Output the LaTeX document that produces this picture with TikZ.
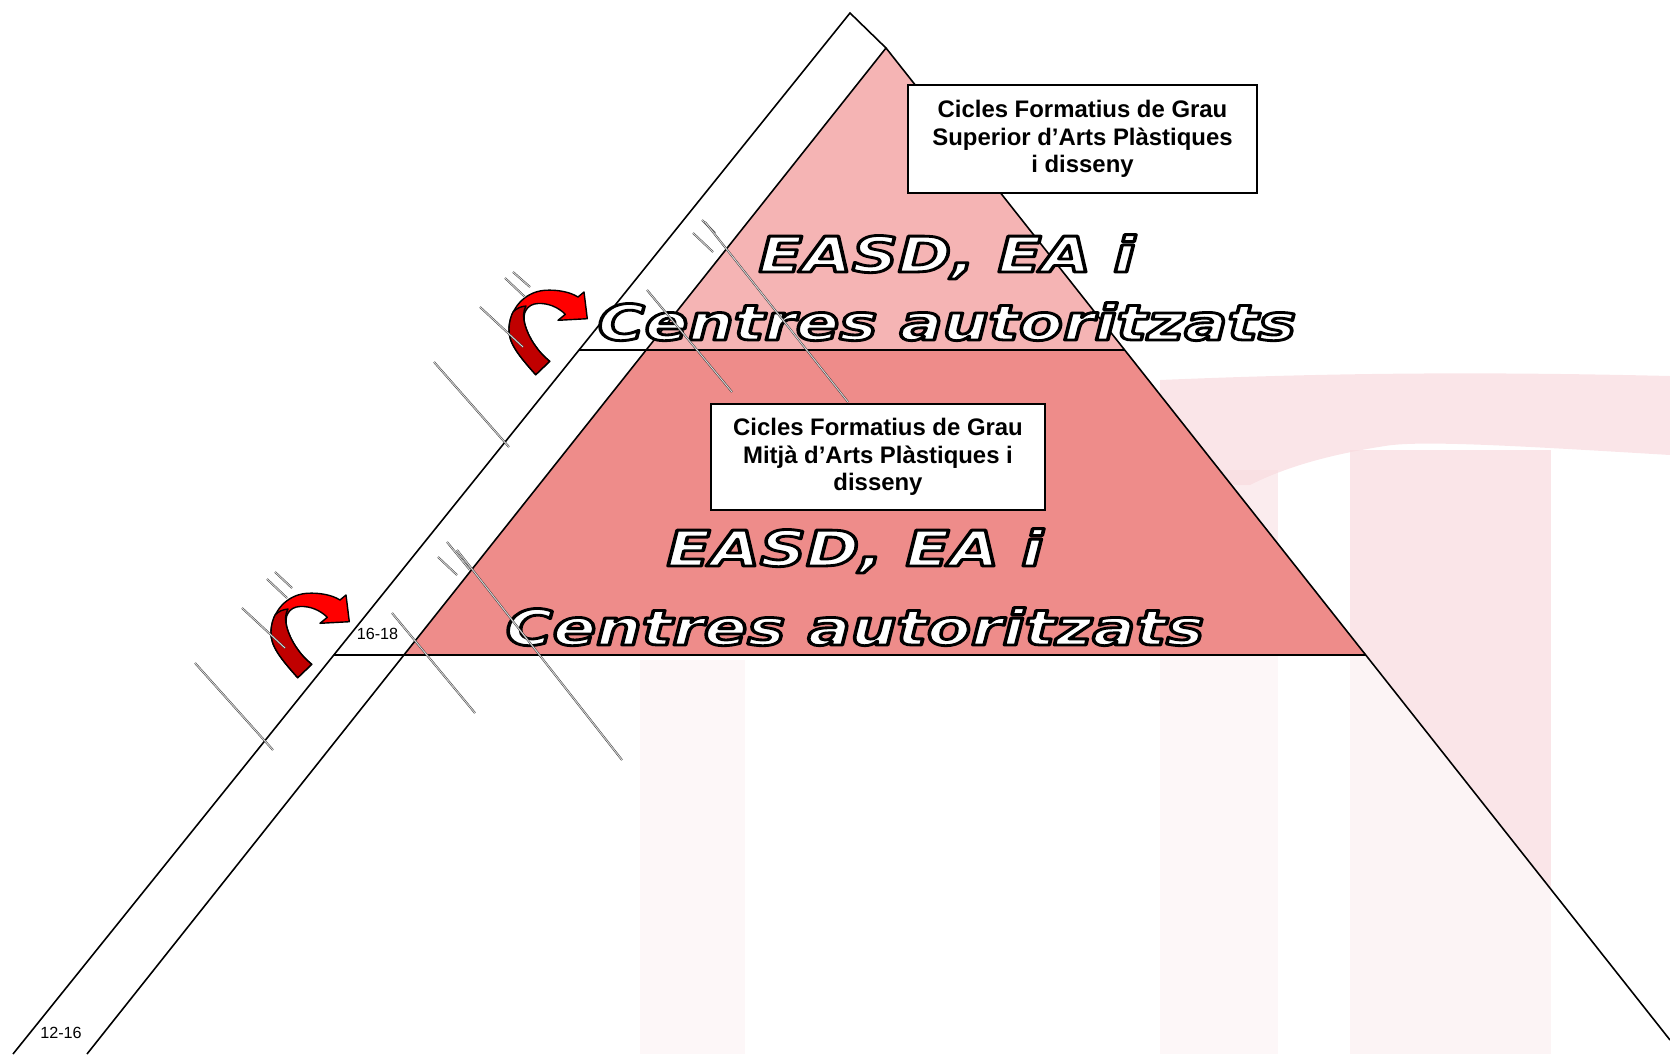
\documentclass[tikz,border=0pt]{standalone}
\usepackage{fontspec}
\setmainfont{Liberation Sans}
\newfontfamily\heavyfont{DejaVu Sans}
\definecolor{pinktop}{RGB}{245,180,180}
\definecolor{pinkmid}{RGB}{238,140,138}
\definecolor{arrowred}{RGB}{255,0,0}
\definecolor{arrowdark}{RGB}{192,0,0}
\definecolor{watermark}{RGB}{248,218,222}

\newcommand{\outlined}[1]{\scalebox{1.3}[1]{\textcolor{white}{\special{pdf:literal direct 0 0 0 RG 0.8 w 1 j 2 Tr}#1\special{pdf:literal direct 0 Tr}}}}

\tikzset{turnarrow/.pic={
  \filldraw[fill=arrowred,line width=0.4pt,line join=round] (57.7,117.7) .. controls (42,100) and (30,86) .. (31,71.7) .. controls (32,52) and (46,35) .. (66.7,33.3) .. controls (80,32.5) and (92,35) .. (100,40) -- (106,35) -- (109.3,61.7) -- (80,63.3) -- (87.3,57.3) .. controls (80,50) and (70,46) .. (60,46.5) .. controls (49,47) and (44,56) .. (46.7,66.7) .. controls (50,80) and (60,95) .. (71.7,104.3) -- cycle;
  \filldraw[fill=arrowdark,line width=0.4pt,line join=round] (57.7,117.7) .. controls (42,100) and (30,86) .. (31,71.7) .. controls (31.3,64) and (33,59) .. (35,55) .. controls (39,51) and (43,49.5) .. (48,49) .. controls (45,54) and (45,61) .. (46.7,66.7) .. controls (50,80) and (60,95) .. (71.7,104.3) -- cycle;
}}

\begin{document}
\begin{tikzpicture}[x=0.01cm,y=-0.01cm,
  titlebox/.style={draw,fill=white,line width=0.45pt,align=center,inner sep=0pt,font=\fontsize{6.8}{7.9}\selectfont\bfseries},
  bigtext/.style={anchor=base,inner sep=0pt,font=\heavyfont\fontsize{14}{14}\selectfont\bfseries\itshape},
  agelabel/.style={inner sep=0pt,font=\fontsize{4.6}{5}\selectfont},
  scribble/.style={draw=black!75,line width=0.15pt,double=gray!30,double distance=0.25pt}]

\useasboundingbox (0,0) rectangle (1670,1054);

% corners of the pyramid
\coordinate (apex) at (850,13);
\coordinate (cap) at (886,48);
\coordinate (outerfoot) at (13,1054);
\coordinate (innerfoot) at (87,1054);
\coordinate (rightfoot) at (1670,1040);
\coordinate (upL) at (579,350);
\coordinate (upI) at (646,350);
\coordinate (upR) at (1125,350);
\coordinate (loL) at (334,655);
\coordinate (loI) at (404,655);
\coordinate (loR) at (1366,655);

% faint watermark behind
\fill[watermark,opacity=0.7] (1160,380) .. controls (1350,372) and (1500,372) .. (1670,376) -- (1670,455) .. controls (1520,446) and (1420,440) .. (1385,446) .. controls (1320,456) and (1280,470) .. (1250,485) -- (1160,485) -- cycle;
\fill[watermark,opacity=0.7] (1350,450) rectangle (1551,1054);
\fill[watermark,opacity=0.5] (1160,470) rectangle (1278,1054);
\fill[watermark,opacity=0.5] (640,660) rectangle (745,1054);
\fill[white,opacity=0.6] (apex) -- (outerfoot) -- (1670,1054) -- (rightfoot) -- (cap) -- cycle;

% band and levels
\fill[white] (apex) -- (cap) -- (innerfoot) -- (outerfoot) -- cycle;
\fill[pinktop] (cap) -- (upI) -- (upR) -- cycle;
\fill[pinkmid] (upI) -- (upR) -- (loR) -- (loI) -- cycle;

\draw[line width=0.45pt] (outerfoot) -- (apex) -- (cap) -- (innerfoot);
\draw[line width=0.45pt] (cap) -- (rightfoot);
\draw[line width=0.45pt] (upL) -- (upR);
\draw[line width=0.45pt] (loL) -- (loR);

\node[bigtext] (easdtop) at (947,272) {\outlined{EASD, EA i}};
\node[bigtext] (centrestop) at (947,340) {\outlined{Centres autoritzats}};
\node[bigtext] (easdmid) at (855,566) {\outlined{EASD, EA i}};
\node[bigtext] (centresmid) at (855,645) {\outlined{Centres autoritzats}};

\node[titlebox,minimum width=3.49cm,minimum height=1.08cm] (superior) at (1082.5,139) {Cicles Formatius de Grau\\Superior d’Arts Plàstiques\\i disseny};
\node[titlebox,minimum width=3.34cm,minimum height=1.06cm] (mitja) at (878,457) {Cicles Formatius de Grau\\Mitjà d’Arts Plàstiques i\\disseny};

\node[agelabel] (age1618) at (377.5,634) {16-18};
\node[agelabel] (age1216) at (61,1033) {12-16};

\pic at (478,257) {turnarrow};
\pic at (240,560) {turnarrow};

% sketchy strokes
\foreach \a/\b in {{(702,220)}/{(715,233)}, {(693,233)}/{(713,252)}, {(705,222)}/{(848,402)}, {(647,290)}/{(732,392)},
                   {(513,272)}/{(530,287)}, {(505,278)}/{(525,297)}, {(480,307)}/{(523,347)}, {(434,362)}/{(509,447)},
                   {(275,572)}/{(292,588)}, {(267,579)}/{(287,598)}, {(242,608)}/{(285,648)}, {(195,663)}/{(273,750)},
                   {(447,542)}/{(470,570)}, {(438,557)}/{(457,575)}, {(392,613)}/{(475,713)}, {(457,550)}/{(622,760)}}
  \draw[scribble] \a -- \b;

\end{tikzpicture}
\end{document}
